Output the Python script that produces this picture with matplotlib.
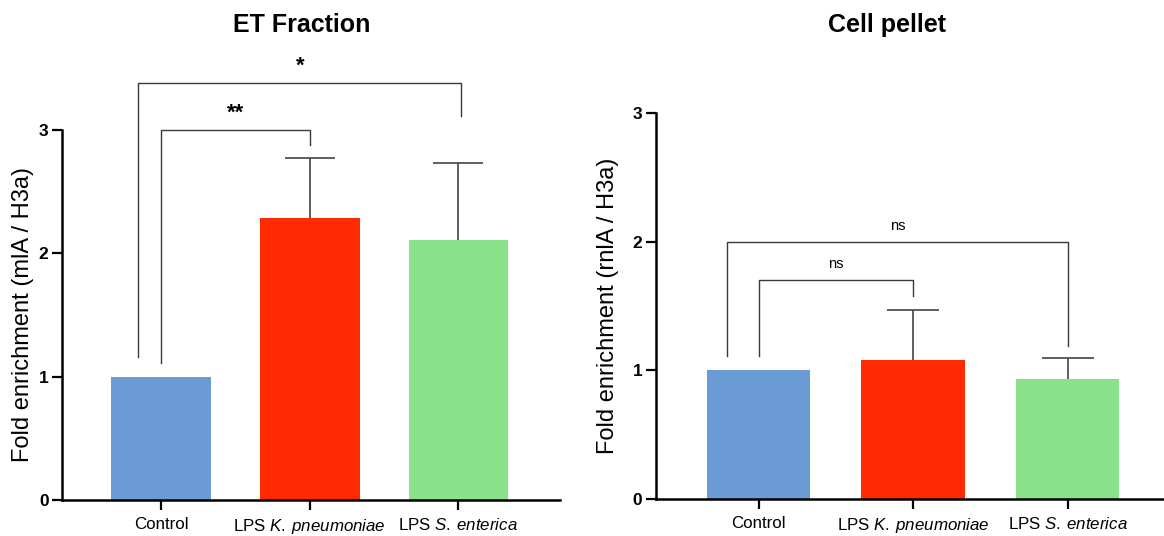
import matplotlib
matplotlib.use("Agg")
import matplotlib.pyplot as plt
import numpy as np

plt.rcParams['font.family'] = ['Liberation Sans', 'DejaVu Sans']
plt.rcParams['mathtext.fontset'] = 'custom'
plt.rcParams['mathtext.rm'] = 'Liberation Sans'
plt.rcParams['mathtext.it'] = 'Liberation Sans:italic'

# ---- data ----
categories = ["Control", "LPS $\\it{K.\\:pneumoniae}$", "LPS $\\it{S.\\:enterica}$"]
colors = ["#6A9BD4", "#FF2A00", "#8AE28A"]

et_values = [1.0, 2.29, 2.11]
et_err_upper = [0.0, 0.48, 0.62]

pellet_values = [1.0, 1.08, 0.93]
pellet_err_upper = [0.0, 0.39, 0.17]

titles = ["ET Fraction", "Cell pellet"]
ylabels = ["Fold enrichment (mlA / H3a)", "Fold enrichment (rnlA / H3a)"]
yticks = [0, 1, 2, 3]

# brackets: (x_left, y_left_bottom, x_right, y_right_bottom, y_top, label, label_y, label_size, bold)
et_brackets = [
    (0.0, 1.11, 1.0, 2.88, 3.0, "**", 3.05, 16, True),
    (-0.153, 1.16, 2.02, 3.11, 3.38, "*", 3.43, 16, True),
]
pellet_brackets = [
    (0.0, 1.11, 1.0, 1.58, 1.70, "ns", 1.77, 10.5, False),
    (-0.205, 1.11, 2.0, 1.19, 2.0, "ns", 2.07, 10.5, False),
]

W, H = 1164, 536
fig = plt.figure(figsize=(W / 100, H / 100), dpi=100)

def px_axes(x0, x1, ybot, ytop):
    return fig.add_axes([x0 / W, 1 - ybot / H, (x1 - x0) / W, (ybot - ytop) / H])

ax1 = px_axes(61.7, 560, 500, 130)
ax2 = px_axes(655.5, 1166, 499, 113.3)

panels = [
    (ax1, et_values, et_err_upper, et_brackets, (-0.668, 2.683), -0.078),
    (ax2, pellet_values, pellet_err_upper, pellet_brackets, (-0.668, 2.636), -0.094),
]

CAP = 0.168  # cap half-width in category units
ECOL = '#444444'

for i, (ax, vals, errs, brackets, xlim, labx) in enumerate(panels):
    x = np.arange(len(categories))
    ax.bar(x, vals, width=0.67, color=colors, zorder=2)
    for xi, v, e in zip(x, vals, errs):
        if e > 0:
            ax.plot([xi, xi], [v, v + e], color=ECOL, lw=1.2, zorder=1,
                    solid_capstyle='butt')
            ax.plot([xi - CAP, xi + CAP], [v + e, v + e], color=ECOL, lw=1.2,
                    zorder=1, solid_capstyle='butt')
    ax.set_xlim(*xlim)
    ax.set_ylim(0, 3)
    ax.set_yticks(yticks)
    ax.set_yticklabels([str(t) for t in yticks], fontweight='bold', fontsize=12.5)
    ax.set_xticks(x)
    ax.set_xticklabels(categories, fontsize=12.2)
    ax.tick_params(axis='both', length=7, width=1.6, color='black')
    ax.tick_params(axis='y', pad=2.5)
    ax.tick_params(axis='x', pad=5.5)
    for s in ['top', 'right']:
        ax.spines[s].set_visible(False)
    for s in ['left', 'bottom']:
        ax.spines[s].set_linewidth(1.8)
    ax.set_ylabel(ylabels[i], fontsize=17, va='center')
    ax.yaxis.set_label_coords(labx, 0.5)
    for (xl, yl, xr, yr, yt, lab, ly, ls, bold) in brackets:
        ax.plot([xl, xl, xr, xr], [yl, yt, yt, yr], color='#3a3a3a', lw=1.0,
                clip_on=False, zorder=3)
        ax.text((xl + xr) / 2, ly, lab, ha='center', va='bottom', fontsize=ls,
                fontweight='bold' if bold else 'normal', clip_on=False)

fig.text(302 / W, 1 - 32 / H, titles[0], ha='center', va='baseline',
         fontsize=18, fontweight='bold')
fig.text(887.5 / W, 1 - 32 / H, titles[1], ha='center', va='baseline',
         fontsize=18, fontweight='bold')

fig.savefig("out.png", dpi=100, facecolor='white')
